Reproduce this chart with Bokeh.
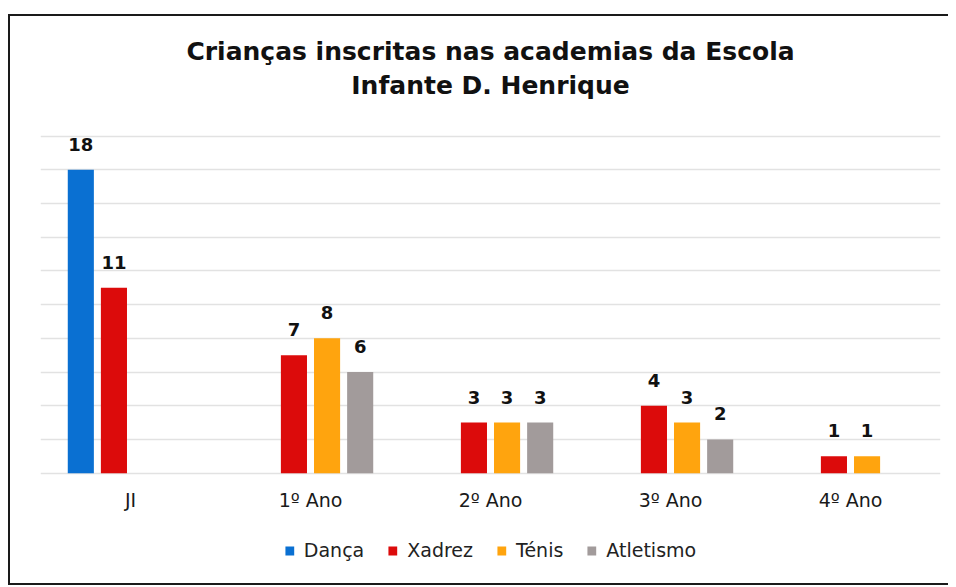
import numpy as np
from bokeh.plotting import figure
from bokeh.models import (ColumnDataSource, FactorRange, Range1d, LabelSet, Label,
                          SingleIntervalTicker, Legend)
from bokeh.core.properties import value
from bokeh.transform import dodge
from bokeh.embed import file_html
from bokeh.resources import INLINE

nan = float("nan")
title_lines = ["Crianças inscritas nas academias da Escola", "Infante D. Henrique"]
categories = ["JI", "1º Ano", "2º Ano", "3º Ano", "4º Ano"]
series_names = ["Dança", "Xadrez", "Ténis", "Atletismo"]
danca = [18, nan, nan, nan, nan]
xadrez = [11, 7, 3, 4, 1]
tenis = [nan, 8, 3, 3, 1]
atletismo = [nan, 6, 3, 2, nan]
colors = ["#0a70d2", "#dc0b0b", "#ffa40e", "#a29b9b"]
offsets = [-0.276, -0.092, 0.092, 0.276]
FONT = "DejaVu Sans"

p = figure(x_range=FactorRange(factors=categories, range_padding=0), y_range=Range1d(-6.78, 27.09),
           width=940, height=571, output_backend="svg", toolbar_location=None,
           min_border_left=30, min_border_right=10, min_border_top=0, min_border_bottom=0)
p.styles = {"border-left": "2px solid #1a1a1a", "border-top": "2px solid #1a1a1a",
            "border-bottom": "2px solid #1a1a1a", "border-right": "0px none",
            "box-sizing": "border-box", "margin-left": "8px", "margin-top": "14px"}

p.title.visible = False
p.outline_line_color = None
p.background_fill_color = "white"
p.border_fill_color = "white"
p.yaxis.visible = False
p.xaxis.visible = False
p.ygrid.ticker = SingleIntervalTicker(interval=2)
p.ygrid.bounds = (0, 20)
p.ygrid.grid_line_color = "#e2e2e2"
p.ygrid.grid_line_width = 1.5
p.xgrid.grid_line_color = None

# title (two centred lines)
for txt, ty in zip(title_lines, [25.04, 23.01]):
    p.add_layout(Label(x=len(categories) / 2, y=ty, text=txt, text_align="center",
                       text_baseline="alphabetic", text_font=FONT, text_font_style="bold",
                       text_font_size="25px", text_color="#111111"))

# category labels (x axis)
cat_src = ColumnDataSource(dict(cat=categories, y=[0] * len(categories)))
p.add_layout(LabelSet(x="cat", y="y", text="cat", source=cat_src, y_offset=-34,
                      text_align="center", text_baseline="alphabetic",
                      text_font=value(FONT), text_font_size="19px", text_color="#1a1a1a"))

keys = ["danca", "xadrez", "tenis", "atletismo"]
series = [danca, xadrez, tenis, atletismo]
src = ColumnDataSource(dict(cat=categories, **{k: np.array(v, dtype=float) for k, v in zip(keys, series)}))
items = []
for k, vals, name, col, off in zip(keys, series, series_names, colors, offsets):
    r = p.vbar(x=dodge("cat", off, range=p.x_range), top=k, bottom=0, width=0.145, source=src,
               fill_color=col, line_color=None)
    items.append((name, [r]))
    lc = [c for c, v in zip(categories, vals) if v == v]
    lv = [v for v in vals if v == v]
    ls = ColumnDataSource(dict(cat=lc, val=lv, txt=[str(int(v)) for v in lv]))
    p.add_layout(LabelSet(x=dodge("cat", off, range=p.x_range), y="val", text="txt", source=ls,
                          text_align="center", text_baseline="alphabetic", y_offset=19,
                          text_font=value(FONT), text_font_style="bold", text_font_size="18px",
                          text_color="#111111"))

legend = Legend(items=items, orientation="horizontal", location="bottom_center",
                glyph_width=11, glyph_height=11, label_standoff=9, spacing=23,
                label_text_font=FONT, label_text_font_size="19px", label_text_color="#222222",
                border_line_color=None, background_fill_alpha=0, margin=26, padding=6)
p.add_layout(legend, "center")

open("out.html", "w").write(file_html(p, INLINE))
